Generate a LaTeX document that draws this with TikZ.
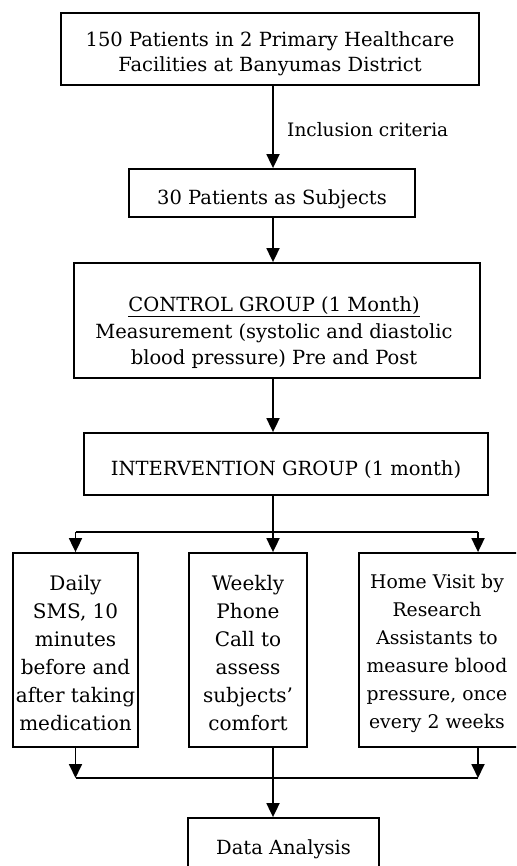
\documentclass[tikz,border=0pt]{standalone}
\usepackage{fontspec}
\setmainfont{DejaVu Serif}
\usetikzlibrary{arrows.meta}
\begin{document}
\begin{tikzpicture}[x=1pt,y=-1pt,
  box/.style={draw, line width=1.8pt, inner sep=0pt},
  txt/.style={inner sep=0pt, align=center},
  big/.style={font=\fontsize{19.5}{25}\selectfont},
  small/.style={font=\fontsize{20}{28}\selectfont},
  ln/.style={line width=1.8pt},
  arr/.style={line width=1.8pt, -{Triangle[width=13pt,length=14pt]}}]
\useasboundingbox (0,0) rectangle (516,866);
\clip (0,0) rectangle (516,866);
\fill[white] (0,0) rectangle (516,866);

\coordinate (axis) at (273,0);
\coordinate (rx) at (478,0);
\coordinate (split) at (273,532);
\coordinate (join) at (273,778);

% boxes
\node[box, minimum width=418pt, minimum height=72pt] (b1) at (270,49) {};
\node[box, minimum width=286pt, minimum height=48pt] (b2) at (272,193) {};
\node[box, minimum width=406pt, minimum height=115pt] (b3) at (277,320.5) {};
\node[box, minimum width=404pt, minimum height=62pt] (b4) at (286,464) {};
\node[box, minimum width=125pt, minimum height=194pt] (b5) at (75.5,650) {};
\node[box, minimum width=118pt, minimum height=194pt] (b6) at (248,650) {};
\node[box, minimum width=170pt, minimum height=194pt] (b7) at (444,650) {};
\node[box, minimum width=191pt, minimum height=58pt] (b8) at (283.5,847) {};

% texts
\node[txt, big] (t1) at (270,54) {150 Patients in 2 Primary Healthcare\\Facilities at Banyumas District};
\node[txt, big] (t2) at (272,199) {30 Patients as Subjects};
\node[txt, font=\fontsize{19.5}{26.5}\selectfont] (t3) at (274,333)
  {\underline{CONTROL GROUP (1 Month)}\\Measurement (systolic and diastolic\\blood pressure) Pre and Post};
\node[txt, big] (t4) at (286,470) {INTERVENTION GROUP (1 month)};
\node[txt, small] (t5) at (75.5,653) {Daily\\SMS, 10\\minutes\\before and\\after taking\\medication};
\node[txt, small] (t6) at (248,653) {Weekly\\Phone\\Call to\\assess\\subjects'\\comfort};
\node[txt, font=\fontsize{18.8}{28}\selectfont] (t7) at (437,653) {Home Visit by\\Research\\Assistants to\\measure blood\\pressure, once\\every 2 weeks};
\node[txt, big] (t8) at (283.5,849) {Data Analysis};

% label
\node[txt, font=\fontsize{18.5}{22}\selectfont, anchor=west] (lab) at (287,130) {Inclusion criteria};

% connectors
\draw[arr] (b1.south -| axis) -- (b2.north -| axis);
\draw[arr] (b2.south -| axis) -- (b3.north -| axis);
\draw[arr] (b3.south -| axis) -- (b4.north -| axis);
\draw[ln] (b4.south -| axis) -- (split);
\draw[ln] (b5.north |- split) -- (split -| rx);
\draw[arr] (split) -- (b6.north -| axis);
\draw[arr] (b5.north |- split) -- (b5.north);
\draw[arr] (split -| rx) -- (b7.north -| rx);
\draw[arr] (b5.south) -- (b5.south |- join);
\draw[arr] (b7.south -| rx) -- (join -| rx);
\draw[ln] (b5.south |- join) -- (join -| rx);
\draw[arr] (b6.south -| axis) -- (b8.north -| axis);
\end{tikzpicture}
\end{document}
